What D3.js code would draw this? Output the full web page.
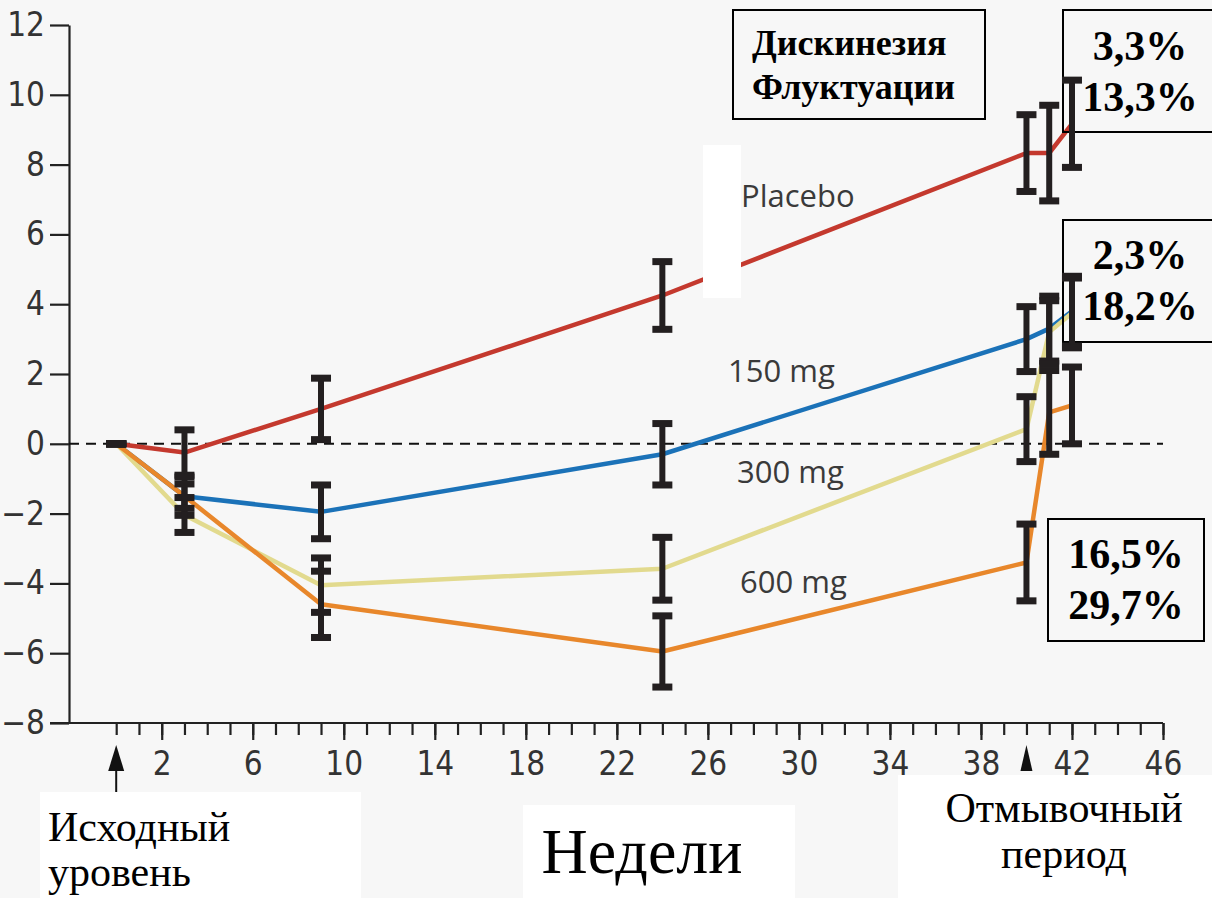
<!DOCTYPE html>
<html>
<head>
<meta charset="utf-8">
<script src="https://cdn.jsdelivr.net/npm/d3@7"></script>
<style>
  body { margin: 0; background: #f7f7f7; }
  svg { display: block; }
</style>
</head>
<body>
<svg id="canvas"></svg>
<script>
// weeks where the points were measured
let weeks = [0, 3, 9, 24, 40, 41, 42];

// mean change per group, and half length of the error bar
let placeboValues = [0, -0.25, 1.0, 4.25, 8.33, 8.33, 9.17];
let placeboErrors = [0, 0.65, 0.88, 0.97, 1.1, 1.37, 1.25];
let mg150Values = [0, -1.5, -1.95, -0.3, 3.0, 3.3, 3.8];
let mg150Errors = [0, 0.55, 0.77, 0.88, 0.93, 0.93, 1.0];
let mg300Values = [0, -2.04, -4.05, -3.58, 0.42, 3.2, 3.75];
let mg300Errors = [0, 0.5, 0.78, 0.9, 0.93, 0.9, 1.0];
let mg600Values = [0, -1.5, -4.6, -5.95, -3.4, 0.9, 1.1];
let mg600Errors = [0, 0.35, 0.95, 1.02, 1.1, 1.2, 1.1];

let seriesNames = ['Placebo', '150 mg', '300 mg', '600 mg'];

// tick labels
let yTicks = d3.range(-8, 13, 2);
let xMinorTicks = d3.range(0, 47, 1);
let xMajorTicks = d3.range(2, 47, 4);

// text boxes
let legendLines = ['Дискинезия', 'Флуктуации'];
let placeboPct = ['3,3%', '13,3%'];
let mg150Pct = ['2,3%', '18,2%'];
let mg600Pct = ['16,5%', '29,7%'];

let width = 1212;
let height = 898;

let canvas = d3.select('#canvas');
canvas.attr('width', width);
canvas.attr('height', height);

let xScale = d3.scaleLinear().domain([0, 46]).range([116.2, 1163]);
let yScale = d3.scaleLinear().domain([-8, 12]).range([723, 25]);

let tickFont = '"Liberation Sans Narrow", "DejaVu Sans Condensed", sans-serif';
let serif = '"Liberation Serif", "DejaVu Serif", serif';

canvas.append('rect')
    .attr('width', width)
    .attr('height', height)
    .attr('fill', '#f7f7f7');

// axes
let drawAxes = () => {
    let yAxis = d3.axisLeft(yScale)
        .tickValues(yTicks)
        .tickSize(19)
        .tickSizeOuter(0)
        .tickPadding(5);

    let gy = canvas.append('g')
        .attr('transform', 'translate(69, 0)')
        .call(yAxis);
    gy.select('.domain').attr('stroke', '#222').attr('stroke-width', 2.2);
    gy.selectAll('.tick line').attr('stroke', '#222').attr('stroke-width', 2.2);
    gy.selectAll('text')
        .attr('font-family', tickFont)
        .attr('font-stretch', 'condensed')
        .attr('font-size', 33)
        .attr('fill', '#333');

    let minorAxis = d3.axisBottom(xScale)
        .tickValues(xMinorTicks)
        .tickSize(12)
        .tickSizeOuter(0)
        .tickFormat('');
    let gxm = canvas.append('g')
        .attr('transform', 'translate(0, 723)')
        .call(minorAxis);
    gxm.select('.domain').remove();
    gxm.selectAll('.tick line').attr('stroke', '#222').attr('stroke-width', 2.2);

    let majorAxis = d3.axisBottom(xScale)
        .tickValues(xMajorTicks)
        .tickSize(17)
        .tickSizeOuter(0)
        .tickPadding(12);
    let gx = canvas.append('g')
        .attr('transform', 'translate(0, 723)')
        .call(majorAxis);
    gx.select('.domain').remove();
    gx.selectAll('.tick line').attr('stroke', '#222').attr('stroke-width', 2.2);
    gx.selectAll('text')
        .attr('font-family', tickFont)
        .attr('font-stretch', 'condensed')
        .attr('font-size', 33)
        .attr('fill', '#333');

    // x axis base line, runs from the -8 tick to week 46
    canvas.append('line')
        .attr('x1', 50)
        .attr('x2', xScale(46))
        .attr('y1', yScale(-8))
        .attr('y2', yScale(-8))
        .attr('stroke', '#222')
        .attr('stroke-width', 2.2);

    // zero reference line
    canvas.append('line')
        .attr('x1', 69)
        .attr('x2', xScale(46))
        .attr('y1', yScale(0))
        .attr('y2', yScale(0))
        .attr('stroke', '#111')
        .attr('stroke-width', 2)
        .attr('stroke-dasharray', '10,7');
}

let series = [
    { name: seriesNames[0], values: placeboValues, errors: placeboErrors, color: '#c4392e' },
    { name: seriesNames[1], values: mg150Values, errors: mg150Errors, color: '#1b72b8' },
    { name: seriesNames[2], values: mg300Values, errors: mg300Errors, color: '#e2da8e' },
    { name: seriesNames[3], values: mg600Values, errors: mg600Errors, color: '#e8872b' }
];

let drawLines = () => {
    let line = d3.line()
        .x((d, i) => xScale(weeks[i]))
        .y((d) => yScale(d));

    // draw order: blue, yellow, orange, red on top
    [1, 2, 3, 0].forEach((k) => {
        canvas.append('path')
            .datum(series[k].values)
            .attr('d', line)
            .attr('fill', 'none')
            .attr('stroke', series[k].color)
            .attr('stroke-width', 4.5)
            .attr('stroke-linejoin', 'round');
    });
}

let drawErrorBars = () => {
    series.forEach((s) => {
        let bars = canvas.append('g');
        s.values.forEach((v, i) => {
            let cx = xScale(weeks[i]);
            let top = yScale(v + s.errors[i]);
            let bottom = yScale(v - s.errors[i]);
            if (s.errors[i] > 0) {
                bars.append('line')
                    .attr('x1', cx).attr('x2', cx)
                    .attr('y1', top).attr('y2', bottom)
                    .attr('stroke', '#231f20')
                    .attr('stroke-width', 6);
            }
            [top, bottom].forEach((y) => {
                bars.append('rect')
                    .attr('x', cx - 10)
                    .attr('y', y - 3.5)
                    .attr('width', 20)
                    .attr('height', 7)
                    .attr('fill', '#231f20');
            });
        });
    });
}

// percent boxes sit under the error bars, text is on top
let pctBoxes = [
    [1063, 10, 160, 122, placeboPct, 1140, 60],
    [1063, 220, 160, 122, mg150Pct, 1140, 269],
    [1048, 519, 156, 122, mg600Pct, 1126, 568]
];

let drawBoxes = () => {
    pctBoxes.forEach((b) => {
        canvas.append('rect')
            .attr('x', b[0]).attr('y', b[1])
            .attr('width', b[2]).attr('height', b[3])
            .attr('fill', 'none')
            .attr('stroke', '#000')
            .attr('stroke-width', 2);
    });
}

let drawLabels = () => {
    // white patch over the placebo line
    canvas.append('rect')
        .attr('x', 703)
        .attr('y', 145)
        .attr('width', 38)
        .attr('height', 153)
        .attr('fill', '#ffffff');

    let labelPos = [[741, 207], [728, 382], [737, 483], [740, 593]];
    seriesNames.forEach((name, i) => {
        canvas.append('text')
            .attr('x', labelPos[i][0])
            .attr('y', labelPos[i][1])
            .attr('font-family', '"Open Sans", "Noto Sans", sans-serif')
            .attr('font-size', 31)
            .attr('fill', '#3a3a3a')
            .text(name);
    });

    // legend box
    canvas.append('rect')
        .attr('x', 733).attr('y', 10)
        .attr('width', 252).attr('height', 109)
        .attr('fill', 'none')
        .attr('stroke', '#000')
        .attr('stroke-width', 2);
    legendLines.forEach((t, i) => {
        canvas.append('text')
            .attr('x', 752)
            .attr('y', 55 + i * 44)
            .attr('font-family', serif)
            .attr('font-weight', 'bold')
            .attr('font-size', 36)
            .attr('fill', '#000')
            .text(t);
    });

    pctBoxes.forEach((b) => {
        b[4].forEach((t, i) => {
            canvas.append('text')
                .attr('x', b[5])
                .attr('y', b[6] + i * 51)
                .attr('text-anchor', 'middle')
                .attr('font-family', serif)
                .attr('font-weight', 'bold')
                .attr('font-size', 42)
                .attr('fill', '#000')
                .text(t);
        });
    });

    // arrows marking baseline and washout
    [[0, 8, 795], [40, 6, 770]].forEach((a) => {
        let ax = xScale(a[0]);
        canvas.append('line')
            .attr('x1', ax).attr('x2', ax)
            .attr('y1', 760).attr('y2', a[2])
            .attr('stroke', '#111')
            .attr('stroke-width', 2);
        canvas.append('path')
            .attr('d', 'M' + ax + ',745 L' + (ax + a[1]) + ',771 L' + (ax - a[1]) + ',771 Z')
            .attr('fill', '#111');
    });

    // bottom captions on white patches
    let caption = (x, y, w, h) => {
        canvas.append('rect')
            .attr('x', x).attr('y', y)
            .attr('width', w).attr('height', h)
            .attr('fill', '#ffffff');
    }
    caption(40, 792, 321, 106);
    caption(523, 805, 272, 93);
    caption(898, 775, 314, 123);

    let bottomText = [
        ['Исходный', 48, 841, 42, 'start'],
        ['уровень', 48, 886, 42, 'start'],
        ['Недели', 642, 873, 64, 'middle'],
        ['Отмывочный', 1064, 822, 42, 'middle'],
        ['период', 1064, 868, 42, 'middle']
    ];
    bottomText.forEach((b) => {
        canvas.append('text')
            .attr('x', b[1])
            .attr('y', b[2])
            .attr('font-family', serif)
            .attr('font-size', b[3])
            .attr('text-anchor', b[4])
            .attr('fill', '#000')
            .text(b[0]);
    });
}

drawAxes();
drawLines();
drawBoxes();
drawErrorBars();
drawLabels();
</script>
</body>
</html>
